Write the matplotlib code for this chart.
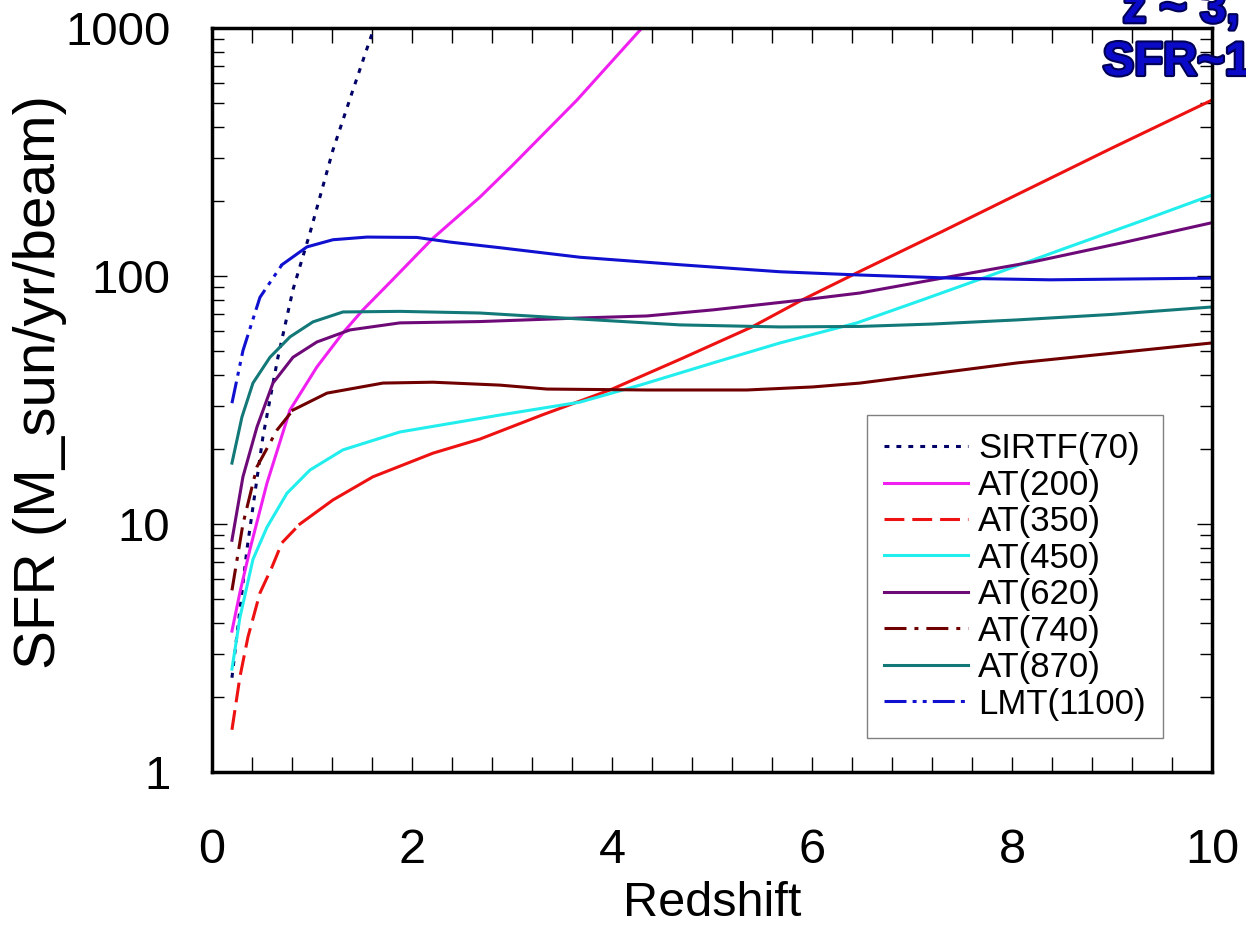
import matplotlib
matplotlib.use('Agg')
import matplotlib.pyplot as plt
import matplotlib.patheffects as pe
from matplotlib.ticker import MultipleLocator, LogLocator, NullFormatter, FixedLocator, FixedFormatter

plt.rcParams['font.family'] = ['Liberation Sans', 'DejaVu Sans']

# values (redshift, SFR)
z_sirtf = [0.2, 0.35, 0.51, 0.66, 0.81, 0.98, 1.21, 1.40, 1.62]
sfr_sirtf = [2.4, 7.9, 22.5, 47, 88, 149, 322, 547, 1000]

z_200 = [0.2, 0.28, 0.38, 0.55, 0.78, 1.05, 1.31, 1.51, 1.8, 2.21, 2.68, 3.0, 3.65, 4.3]
sfr_200 = [3.7, 5.3, 7.9, 14.6, 28.8, 43, 59, 73, 96, 142, 208, 278, 512, 1000]

z_350 = [0.2, 0.28, 0.36, 0.48, 0.6, 0.7, 0.88, 1.21, 1.61, 2.21, 2.68, 3.3, 3.98,
         4.7, 5.4, 5.9, 6.45, 7.3, 8.0, 9.0, 10.0]
sfr_350 = [1.48, 2.42, 3.5, 5.27, 6.7, 8.4, 10.0, 12.5, 15.5, 19.3, 22, 27.5, 34.7,
           46.5, 62.3, 80, 103, 151, 208, 328, 512]

z_450 = [0.2, 0.28, 0.41, 0.55, 0.75, 0.98, 1.31, 1.88, 2.4, 2.88, 3.68, 4.3, 5.01,
         5.68, 6.45, 7.1, 7.71, 8.5, 9.3, 10.0]
sfr_450 = [2.6, 4.2, 7.2, 9.7, 13.3, 16.5, 19.9, 23.5, 25.5, 27.5, 31, 36.5, 44.6,
           53.7, 64.7, 80, 98, 128, 167, 212]

z_620 = [0.2, 0.31, 0.45, 0.61, 0.81, 1.05, 1.38, 1.88, 2.68, 3.68, 4.35, 5.01, 5.9,
         6.48, 7.3, 8.21, 9.1, 10.0]
sfr_620 = [8.6, 15.5, 24.6, 37, 47, 54.2, 60.6, 64.7, 65.5, 67.7, 69, 73, 80,
           85.4, 98, 114, 136, 164]

z_740 = [0.2, 0.31, 0.45, 0.65, 0.81, 1.15, 1.71, 2.21, 2.88, 3.35, 4.35, 5.35, 6.01,
         6.48, 7.2, 8.05, 9.0, 10.0]
sfr_740 = [5.4, 10, 17, 23.9, 28.8, 33.7, 37, 37.3, 36.3, 35, 34.7, 34.7, 35.7,
           37, 40.3, 44.6, 48.8, 53.7]

z_870 = [0.2, 0.3, 0.41, 0.58, 0.78, 1.01, 1.31, 1.88, 2.68, 3.51, 4.68, 5.68, 6.48,
         7.2, 8.05, 9.0, 10.0]
sfr_870 = [17.6, 27, 37, 47, 56.8, 65.3, 71.6, 72, 70.9, 67.7, 63.5, 62.3, 62.6,
           64, 66.5, 70, 75]

z_1100 = [0.2, 0.31, 0.48, 0.7, 0.95, 1.21, 1.55, 2.05, 2.38, 2.88, 3.68, 4.68, 5.68,
          6.45, 7.4, 8.38, 10.0]
sfr_1100 = [30.7, 50, 82, 111, 131, 140, 143.5, 143, 137, 130, 119, 111, 104,
            101, 98, 96.5, 98]

y_ticks = [1, 10, 100, 1000]
y_ticklabels = ['1', '10', '100', '1000']

fig = plt.figure(figsize=(12.46, 9.26), dpi=100)
ax = fig.add_axes([0.1701, 0.1663, 0.8026, 0.8035])

lw = 2.2
ax.plot(z_sirtf, sfr_sirtf, color='#000066', lw=lw, dashes=(1.6, 2.3), label='SIRTF(70)')
ax.plot(z_200, sfr_200, color='#f020f0', lw=lw, label='AT(200)')

# the broken line styles only show at low redshift, the rest is drawn solid
ax.plot(z_350[:7], sfr_350[:7], color='#ee1111', lw=lw, dashes=(6.5, 2.6), label='AT(350)')
ax.plot(z_350[6:], sfr_350[6:], color='#ee1111', lw=lw)
ax.plot(z_450, sfr_450, color='#22eeee', lw=lw, label='AT(450)')
ax.plot(z_620, sfr_620, color='#6e0a78', lw=lw, label='AT(620)')
ax.plot(z_740[:5], sfr_740[:5], color='#700000', lw=lw, dashes=(7.2, 2.6, 1.3, 2.6), label='AT(740)')
ax.plot(z_740[4:], sfr_740[4:], color='#700000', lw=lw)
ax.plot(z_870, sfr_870, color='#137878', lw=lw, label='AT(870)')
ax.plot(z_1100[:4], sfr_1100[:4], color='#1010d0', lw=lw,
        dashes=(7.2, 2.0, 1.3, 2.0, 1.3, 2.0), label='LMT(1100)')
ax.plot(z_1100[3:], sfr_1100[3:], color='#1010d0', lw=lw)

ax.set_yscale('log')
ax.set_xlim(0, 10)
ax.set_ylim(1, 1000)

ax.xaxis.set_major_locator(MultipleLocator(2))
ax.xaxis.set_minor_locator(FixedLocator([0.4 * i for i in range(26)]))
ax.yaxis.set_major_locator(FixedLocator(y_ticks))
ax.yaxis.set_major_formatter(FixedFormatter(y_ticklabels))
ax.yaxis.set_minor_locator(LogLocator(base=10, subs=range(2, 10)))
ax.yaxis.set_minor_formatter(NullFormatter())

ax.tick_params(which='both', direction='in', top=True, right=True, width=1, colors='black')
ax.tick_params(axis='x', which='both', length=10.8, labelsize=35, pad=40)
ax.tick_params(axis='y', which='major', length=10.8, labelsize=34, pad=30)
ax.tick_params(axis='y', which='minor', length=8.6)
for s in ax.spines.values():
    s.set_linewidth(2.5)

ax.set_xlabel('Redshift', fontsize=35, labelpad=6)
ax.set_ylabel('SFR (M_sun/yr/beam)', fontsize=42)
ax.yaxis.set_label_coords(-0.145, 0.524)

leg = ax.legend(loc='upper right', bbox_to_anchor=(0.951, 0.480), borderaxespad=0,
                fontsize=25, handlelength=2.4, handletextpad=0.3, labelspacing=0.1,
                borderpad=0.5, fancybox=False, framealpha=1)
leg.get_frame().set_edgecolor('#808080')
leg.get_frame().set_linewidth(1.0)

outline = [pe.Stroke(linewidth=3, foreground='#000055'), pe.Normal()]
fig.text(0.901, 0.976, 'z ~ 3, L', fontsize=34, fontweight='bold', color='#0a0ac8',
         path_effects=outline)
fig.text(0.885, 0.919, 'SFR~100', fontsize=34, fontweight='bold', color='#0a0ac8',
         path_effects=outline)

plt.savefig('out.png', dpi=100)
plt.close()
